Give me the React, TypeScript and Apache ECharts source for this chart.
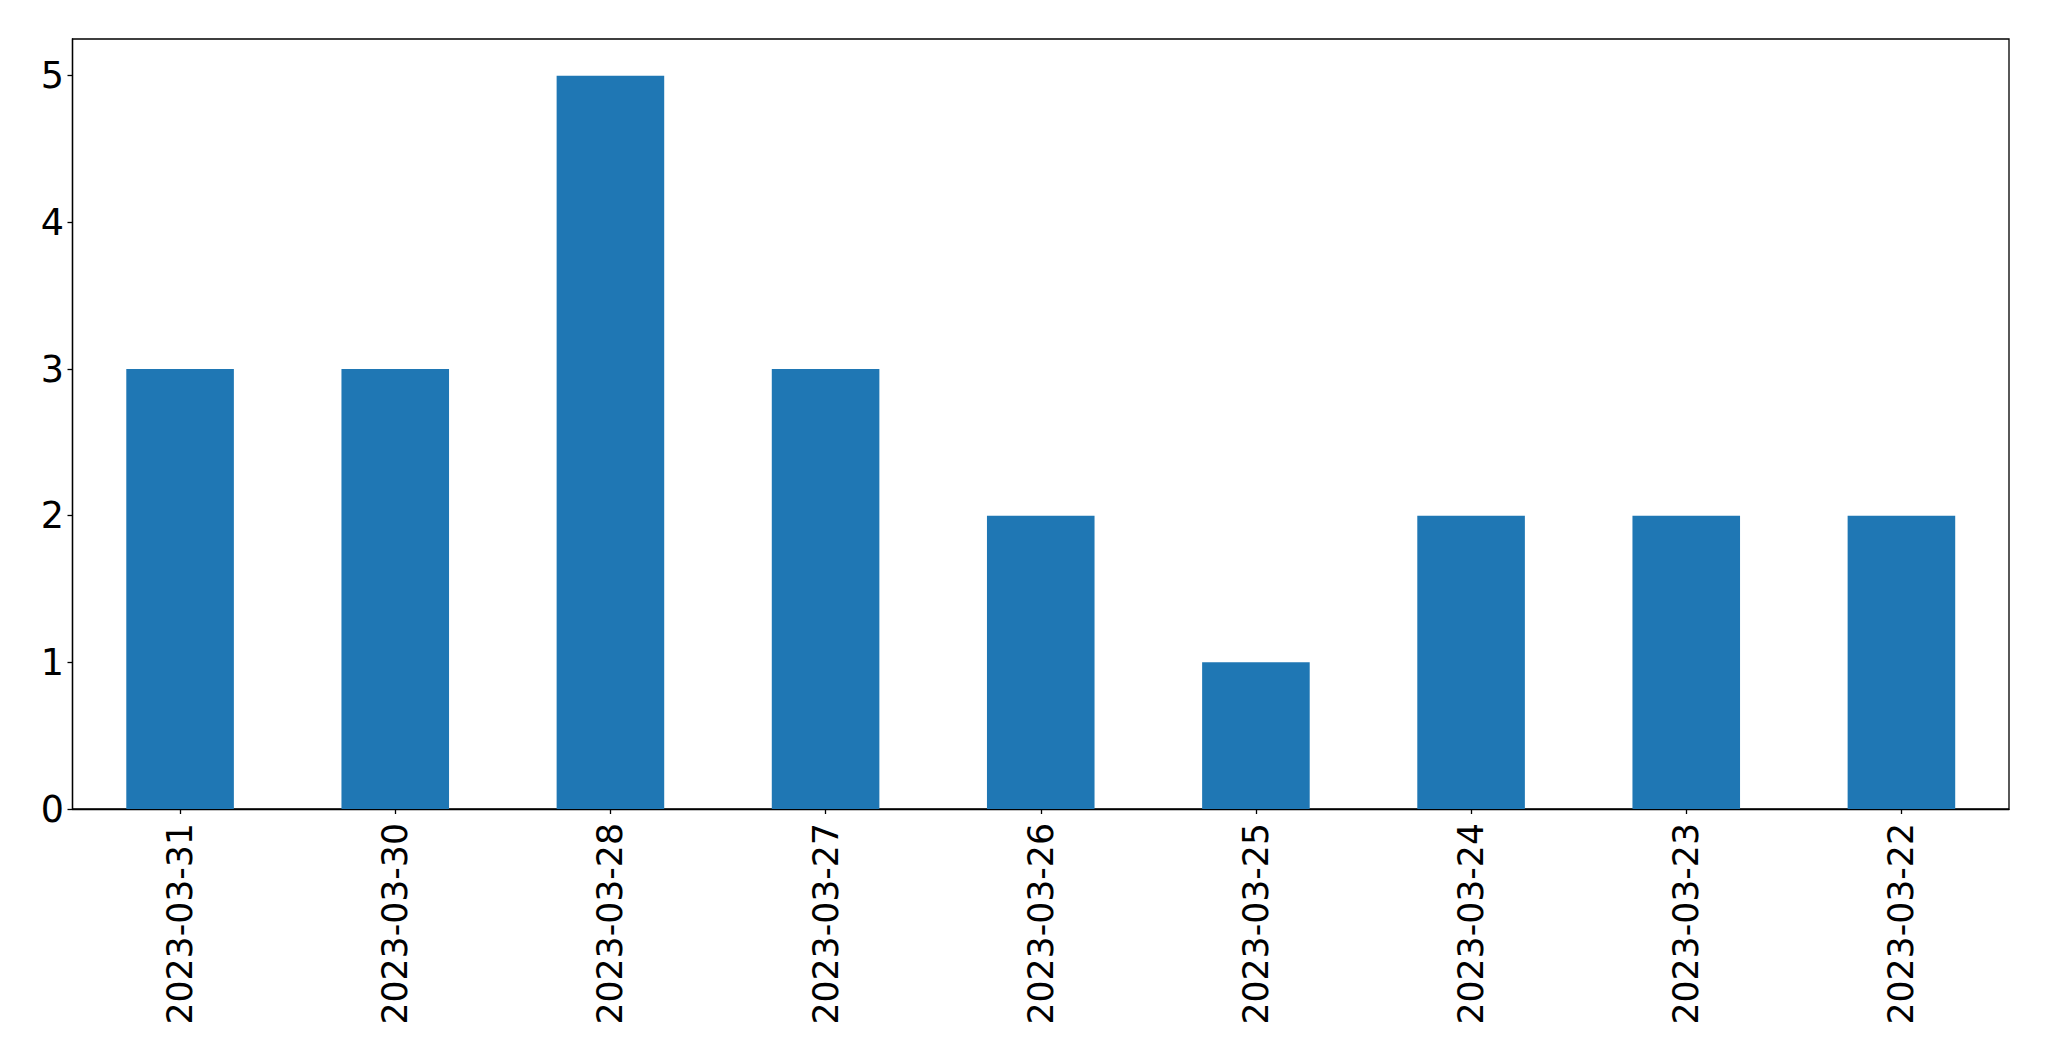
import React, { useEffect, useRef } from "react";
import * as echarts from "echarts";

const categories = [
  "2023-03-31",
  "2023-03-30",
  "2023-03-28",
  "2023-03-27",
  "2023-03-26",
  "2023-03-25",
  "2023-03-24",
  "2023-03-23",
  "2023-03-22",
];
const counts = [3, 3, 5, 3, 2, 1, 2, 2, 2];
const yTicks = [0, 1, 2, 3, 4, 5];

export default function App() {
  const ref = useRef<HTMLDivElement>(null);
  useEffect(() => {
    if (!ref.current) return;
    const chart = echarts.init(ref.current, undefined, { renderer: "svg" });
    const font = "DejaVu Sans";
    chart.setOption({
      animation: false,
      backgroundColor: "#ffffff",
      grid: {
        left: 72.5,
        right: 40,
        top: 39,
        bottom: 252,
        show: true,
        borderColor: "#000000",
        borderWidth: 1.3,
        backgroundColor: "transparent",
        containLabel: false,
      },
      xAxis: {
        type: "category",
        data: categories,
        boundaryGap: true,
        axisLine: { show: true, lineStyle: { color: "#000", width: 1.3 } },
        axisTick: {
          show: true,
          alignWithLabel: true,
          length: 5,
          lineStyle: { color: "#000", width: 1.3 },
        },
        axisLabel: {
          rotate: 90,
          margin: 14,
          color: "#000",
          fontFamily: font,
          fontSize: 34.7,
          interval: 0,
        },
        splitLine: { show: false },
      },
      yAxis: {
        type: "value",
        min: 0,
        max: 5.25,
        interval: 1,
        axisLine: { show: true, lineStyle: { color: "#000", width: 1.3 } },
        axisTick: {
          show: true,
          length: 5,
          customValues: yTicks,
          lineStyle: { color: "#000", width: 1.3 },
        },
        axisLabel: {
          margin: 8.5,
          color: "#000",
          fontFamily: font,
          fontSize: 36.5,
          customValues: yTicks,
        },
        splitLine: { show: false },
      },
      series: [
        {
          type: "bar",
          data: counts,
          barWidth: "50%",
          itemStyle: { color: "#1f77b4" },
        },
      ],
    });
    return () => chart.dispose();
  }, []);
  return (
    <div
      ref={ref}
      style={{ position: "fixed", left: 0, top: 0, width: 2049, height: 1061 }}
    />
  );
}
